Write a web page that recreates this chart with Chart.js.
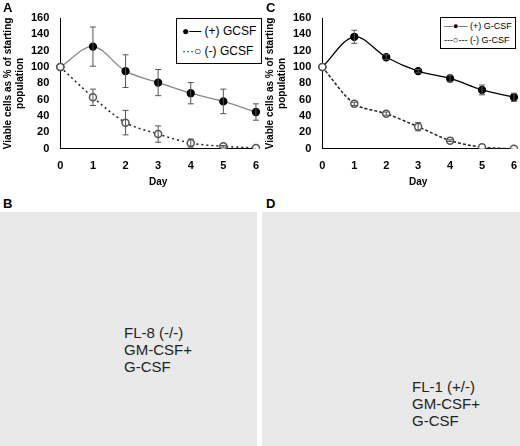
<!DOCTYPE html><html><head><script src="https://cdn.jsdelivr.net/npm/chart.js@4"></script>
<style>body{margin:0;width:520px;height:446px;position:relative;background:#fff;font-family:"Liberation Sans",Arial,sans-serif;overflow:hidden}
.c{position:absolute}.lab{position:absolute;font-weight:bold;font-size:13px}
.leg{position:absolute;border:1px solid #000;background:#fff;font-size:11px;padding:2px 5px;line-height:16px;white-space:nowrap}
.ph{position:absolute;background:#e9e9e9}
.pt{position:absolute;font-size:15px;line-height:17px;color:#222}
</style></head><body>
<div class="c" style="left:0;top:0;width:262px;height:188px"><canvas id="a"></canvas></div>
<div class="c" style="left:262px;top:0;width:258px;height:188px"><canvas id="c"></canvas></div>
<div class="lab" style="left:3px;top:0">A</div><div class="lab" style="left:266px;top:0">C</div>
<div class="lab" style="left:3px;top:196px">B</div><div class="lab" style="left:266px;top:196px">D</div>
<div class="leg" style="left:176px;top:18px;font-size:12px;line-height:20px">●— (+) GCSF<br>···○ (-) GCSF</div>
<div class="leg" style="left:440px;top:17px;font-size:9px;line-height:14px;padding:1px 3px">—●— (+) G-CSF<br>---○--- (-) G-CSF</div>
<div class="ph" style="left:0;top:212px;width:257px;height:234px"></div>
<div class="ph" style="left:262px;top:212px;width:258px;height:234px"></div>
<div class="pt" style="left:124px;top:324px">FL-8 (-/-)<br>GM-CSF+<br>G-CSF</div>
<div class="pt" style="left:412px;top:378px">FL-1 (+/-)<br>GM-CSF+<br>G-CSF</div>
<script>
const days=["0","1","2","3","4","5","6"];
const aPlus=[100,125,95,81,68,58,45], aPlusErr=[0,24,20,16,13,15,10];
const aMinus=[100,63,32,18,7,3,1], aMinusErr=[0,10,15,10,5,1,0];
const cPlus=[100,137,112,95,86,72,63], cPlusErr=[0,8,3,2,4,6,5];
const cMinus=[100,55,43,27,10,2,0], cMinusErr=[0,2,2,5,1,0,0];
const errPlugin={id:'err',afterDatasetsDraw(ch){const ctx=ch.ctx,y=ch.scales.y;ctx.save();ctx.strokeStyle='#555';ctx.lineWidth=1;
ch.data.datasets.forEach((ds,i)=>{const m=ch.getDatasetMeta(i);m.data.forEach((p,j)=>{const e=ds.err[j];if(!e)return;const v=ds.data[j];
const t=y.getPixelForValue(v+e),b=y.getPixelForValue(v-e);ctx.beginPath();ctx.moveTo(p.x,t);ctx.lineTo(p.x,b);ctx.moveTo(p.x-3,t);ctx.lineTo(p.x+3,t);ctx.moveTo(p.x-3,b);ctx.lineTo(p.x+3,b);ctx.stroke();});});ctx.restore();}};
function mk(id,p,pe,m,me,pc,dash){
new Chart(document.getElementById(id),{type:'line',plugins:[errPlugin],data:{labels:days,datasets:[
{data:p,err:pe,borderColor:pc,borderWidth:1.3,pointBackgroundColor:'#000',pointBorderColor:'#000',pointRadius:3.5,tension:0.35,order:1},
{data:m,err:me,borderColor:'#222',borderDash:dash,borderWidth:1.5,pointBackgroundColor:'#fff',pointBorderColor:'#555',pointRadius:3.5,tension:0.3,order:0}]},
options:{responsive:true,maintainAspectRatio:false,animation:false,layout:{padding:{top:18,right:6}},plugins:{legend:{display:false},tooltip:{enabled:false}},
scales:{x:{grid:{display:false},border:{color:'#000'},ticks:{color:'#000',font:{size:11,weight:'bold'}},title:{display:true,text:'Day',color:'#000',font:{size:10,weight:'bold'},padding:0}},
y:{min:0,max:160,grid:{display:false},border:{color:'#000'},ticks:{stepSize:20,color:'#000',font:{size:11,weight:'bold'}},title:{display:true,text:['Viable cells as % of starting','population'],color:'#000',font:{size:10,weight:'bold'},padding:2}}}}});}
mk('a',aPlus,aPlusErr,aMinus,aMinusErr,'#888',[2,3]);
mk('c',cPlus,cPlusErr,cMinus,cMinusErr,'#000',[3,2]);
</script></body></html>
